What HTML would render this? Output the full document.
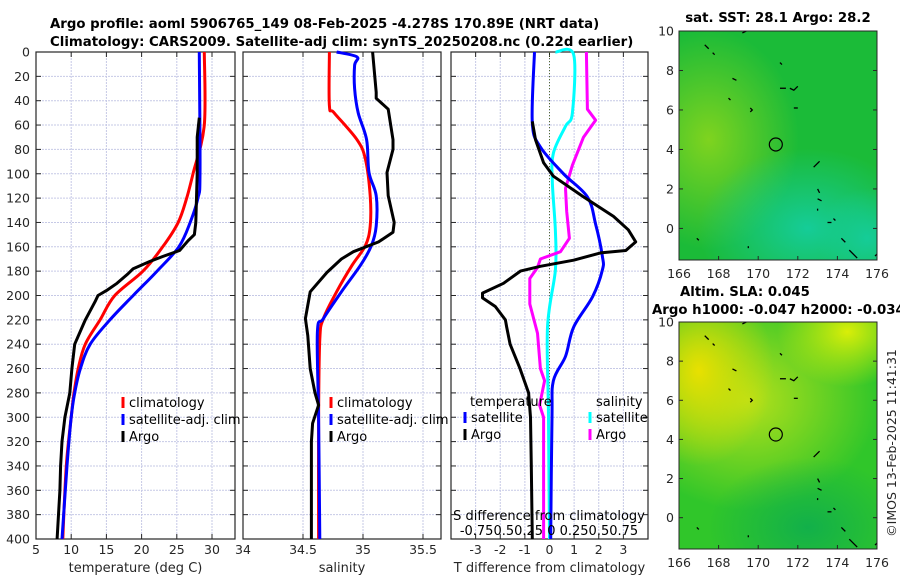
<!DOCTYPE html>
<html><head><meta charset="utf-8">
<style>
html,body{margin:0;padding:0;background:#fff;}
svg{display:block;font-family:"DejaVu Sans","Liberation Sans",sans-serif;}
.tk{font-size:12.5px;fill:#262626;}
.ttl{font-size:13.3px;font-weight:bold;fill:#000;}
.lg{font-size:13px;fill:#000;}
</style></head>
<body>
<svg id="fig" width="900" height="580" viewBox="0 0 900 580" xmlns="http://www.w3.org/2000/svg">
<defs>
<radialGradient id="g1a" cx="0.5" cy="0.5" r="0.5"><stop offset="0" stop-color="#7fd31f"/><stop offset="1" stop-color="#7fd31f" stop-opacity="0"/></radialGradient>
<radialGradient id="g1b" cx="0.5" cy="0.5" r="0.5"><stop offset="0" stop-color="#15cc98"/><stop offset="1" stop-color="#15cc98" stop-opacity="0"/></radialGradient>
<radialGradient id="g2a" cx="0.5" cy="0.5" r="0.5"><stop offset="0" stop-color="#e8e000"/><stop offset="1" stop-color="#e8e000" stop-opacity="0"/></radialGradient>
<radialGradient id="g2b" cx="0.5" cy="0.5" r="0.5"><stop offset="0" stop-color="#d9ee08"/><stop offset="1" stop-color="#d9ee08" stop-opacity="0"/></radialGradient>
<radialGradient id="g2c" cx="0.5" cy="0.5" r="0.5"><stop offset="0" stop-color="#12b04a"/><stop offset="1" stop-color="#12b04a" stop-opacity="0"/></radialGradient>
<radialGradient id="g2d" cx="0.5" cy="0.5" r="0.5"><stop offset="0" stop-color="#b4e01a"/><stop offset="1" stop-color="#b4e01a" stop-opacity="0"/></radialGradient>
<clipPath id="c1"><rect x="679" y="31" width="198" height="229"/></clipPath>
<clipPath id="c2"><rect x="679" y="322" width="198" height="227"/></clipPath>
</defs>
<text class="ttl" x="50" y="28">Argo profile: aoml 5906765_149 08-Feb-2025 -4.278S 170.89E (NRT data)</text>
<text class="ttl" x="50" y="46">Climatology: CARS2009. Satellite-adj clim: synTS_20250208.nc (0.22d earlier)</text>
<g id="layer"></g>
</svg>
<script>
// ---- Data ----
const depthTicks = [0,20,40,60,80,100,120,140,160,180,200,220,240,260,280,300,320,340,360,380,400];
const tempTicks = [5,10,15,20,25,30];
const salTicks = [34,34.5,35,35.5];
const tdiffTicks = [-3,-2,-1,0,1,2,3];

const climTempDepth = [0,60,100,120,140,160,180,200,220,240,260,280,300,340,400];
const climTemp      = [28.9,28.9,27.3,26.4,25.2,23.0,20.2,16.2,14.1,12.0,11.0,10.4,10.0,9.3,8.8];
const satTempDepth  = [0,100,120,140,160,180,200,220,240,260,280,300,340,400];
const satTemp       = [28.2,28.3,28.0,26.9,25.3,22.2,18.8,15.5,12.7,11.3,10.5,10.0,9.4,8.7];
const argoTempDepth = [54,70,100,140,150,155,163,168,172,178,182,190,196,200,205,220,240,260,280,300,320,340,360,400];
const argoTemp      = [28.2,27.9,27.9,27.7,27.5,26.6,25.4,23.0,21.2,18.8,18.1,16.5,15.0,13.8,13.4,12.0,10.5,10.1,9.8,9.1,8.7,8.5,8.4,8.0];

const climSalDepth = [0,44,50,72,88,118,143,159,175,197,219,236,300,400];
const climSal      = [34.72,34.72,34.76,34.95,35.02,35.06,35.06,35.02,34.91,34.78,34.67,34.64,34.63,34.63];
const satSalDepth  = [0,4,11,30,50,72,99,118,143,159,175,197,219,230,300,400];
const satSal       = [34.78,34.95,34.93,34.93,34.96,35.03,35.05,35.11,35.11,35.07,34.98,34.82,34.67,34.62,34.63,34.64];
const argoSalDepth = [0,33,38,47,72,80,99,118,140,148,156,164,170,181,197,208,219,233,260,270,280,290,305,320,400];
const argoSal      = [35.08,35.11,35.11,35.21,35.25,35.25,35.2,35.21,35.26,35.25,35.13,34.92,34.82,34.70,34.56,34.54,34.52,34.54,34.56,34.58,34.60,34.63,34.58,34.57,34.57];

const satTdDepth = [0,58,78,100,119,141,168,179,201,226,250,270,300,400];
const satTd      = [-0.61,-0.7,-0.37,0.57,1.54,1.87,2.15,2.15,1.75,0.98,0.65,0.16,0.1,0.05];
const argoTdDepth = [57,72,91,102,119,135,146,156,163,165,171,176,180,190,198,202,209,220,226,240,260,280,300,340,400];
const argoTd      = [-0.7,-0.57,-0.24,0.16,1.38,2.6,3.2,3.5,3.1,2.07,0.98,-0.37,-1.18,-1.87,-2.72,-2.72,-2.2,-1.79,-1.74,-1.6,-1.2,-0.85,-0.77,-0.74,-0.7];
const satSdDepth = [0,2,50,61,83,106,147,179,226,300,400];
const satSd      = [0.06,0.245,0.232,0.162,0.04,0.028,0.06,0.06,-0.02,-0.01,0.0];
const argoSdDepth = [0,47,56,70,93,112,131,153,164,170,177,186,207,231,260,270,290,300,400];
const argoSd      = [0.375,0.385,0.468,0.345,0.232,0.162,0.175,0.202,0.112,-0.092,-0.122,-0.2,-0.2,-0.122,-0.092,-0.05,-0.1,-0.06,-0.06];

const lonTicks = [166,168,170,172,174,176];
const latTicks = [0,2,4,6,8,10];
const argoLon = 170.89, argoLat = 4.25;

// ---- helpers ----
const NS="http://www.w3.org/2000/svg";
const layer=document.getElementById('layer');
function mk(tag,attrs,parent){const e=document.createElementNS(NS,tag);for(const k in attrs)e.setAttribute(k,attrs[k]);(parent||layer).appendChild(e);return e;}
const Y0=52, Y1=539;
const yD = d => Y0 + d*(Y1-Y0)/400;
function lin(d0,d1,r0,r1){return v=>r0+(v-d0)*(r1-r0)/(d1-d0);}

function panel(name,x0,x1,xs,vticks,tickvals,ticklabels,xtitle,showY){
  const g=mk('g',{});
  
  
  mk('rect',{x:x0,y:Y0,width:x1-x0,height:Y1-Y0,fill:'#fff'},g);
  depthTicks.forEach(d=>{ if(d>0&&d<400) mk('line',{x1:x0,x2:x1,y1:yD(d),y2:yD(d),stroke:'#c6c9e6','stroke-width':1,'stroke-dasharray':'2,1'},g);});
  vticks.forEach(v=>{const x=xs(v); if(x>x0+1&&x<x1-1) mk('line',{x1:x,x2:x,y1:Y0,y2:Y1,stroke:'#c6c9e6','stroke-width':1,'stroke-dasharray':'2,1'},g);});
  depthTicks.forEach(d=>{mk('line',{x1:x0,x2:x0+5,y1:yD(d),y2:yD(d),stroke:'#262626'},g);mk('line',{x1:x1-5,x2:x1,y1:yD(d),y2:yD(d),stroke:'#262626'},g);
    if(showY){const t=mk('text',{x:x0-6,y:yD(d)+4.5,'text-anchor':'end',class:'tk'},g);t.textContent=d;}});
  tickvals.forEach((v,i)=>{const x=xs(v);mk('line',{x1:x,x2:x,y1:Y1,y2:Y1-5,stroke:'#262626'},g);mk('line',{x1:x,x2:x,y1:Y0,y2:Y0+5,stroke:'#262626'},g);
    const t=mk('text',{x:x,y:554,'text-anchor':'middle',class:'tk'},g);t.textContent=ticklabels[i];});
  mk('rect',{x:x0,y:Y0,width:x1-x0,height:Y1-Y0,fill:'none',stroke:'#262626','stroke-width':1.2},g);
  const tt=mk('text',{x:(x0+x1)/2,y:572,'text-anchor':'middle',class:'tk',style:'font-size:13px'},g);tt.textContent=xtitle;
  
  return g;
}
function line(g,xs,depths,vals,color,name,smooth){
  const P=depths.map((d,i)=>[xs(vals[i]),yD(d)]);
  let dstr='M'+P[0][0].toFixed(1)+','+P[0][1].toFixed(1);
  for(let i=0;i<P.length-1;i++){
    if(smooth){
      const p0=P[Math.max(0,i-1)],p1=P[i],p2=P[i+1],p3=P[Math.min(P.length-1,i+2)];
      const c1=[p1[0]+(p2[0]-p0[0])/6,p1[1]+(p2[1]-p0[1])/6];
      const c2=[p2[0]-(p3[0]-p1[0])/6,p2[1]-(p3[1]-p1[1])/6];
      dstr+=' C'+c1[0].toFixed(1)+','+c1[1].toFixed(1)+' '+c2[0].toFixed(1)+','+c2[1].toFixed(1)+' '+p2[0].toFixed(1)+','+p2[1].toFixed(1);
    } else dstr+=' L'+P[i+1][0].toFixed(1)+','+P[i+1][1].toFixed(1);
  }
  const p=mk('path',{d:dstr,fill:'none',stroke:color,'stroke-width':3,'stroke-linejoin':'round'},g);
  
  
}
function legend(g,x,y,color,label,name){
  mk('line',{x1:x,x2:x,y1:y-10,y2:y+1,stroke:color,'stroke-width':3},g);
  const t=mk('text',{x:x+6,y:y,class:'lg'},g);t.textContent=label;
  
  
}

// Panel 1 temperature
const xT=lin(5,30,36,212);
const p1=panel('temperature-panel',36,235,xT,tempTicks,tempTicks,tempTicks,'temperature (deg C)',true);
line(p1,xT,climTempDepth,climTemp,'#ff0000','climatology-temp-line',true);
line(p1,xT,satTempDepth,satTemp,'#0000ff','satellite-temp-line',true);
line(p1,xT,argoTempDepth,argoTemp,'#000000','argo-temp-line',false);
legend(p1,123,407,'#ff0000','climatology','legend-climatology');
legend(p1,123,424,'#0000ff','satellite-adj. clim','legend-satellite');
legend(p1,123,441,'#000000','Argo','legend-argo');

// Panel 2 salinity
const xS=lin(34,35,243,363);
const p2=panel('salinity-panel',243,441,xS,salTicks,[34.5,35,35.5],['34.5','35','35.5'],'salinity',false);
line(p2,xS,climSalDepth,climSal,'#ff0000','climatology-sal-line',true);
line(p2,xS,satSalDepth,satSal,'#0000ff','satellite-sal-line',true);
line(p2,xS,argoSalDepth,argoSal,'#000000','argo-sal-line',false);
legend(p2,331,407,'#ff0000','climatology','legend-climatology-sal');
legend(p2,331,424,'#0000ff','satellite-adj. clim','legend-satellite-sal');
legend(p2,331,441,'#000000','Argo','legend-argo-sal');
{const t=mk('text',{x:243,y:554,'text-anchor':'middle',class:'tk'});t.textContent='34';}

// Panel 3 differences
const xD=lin(-4,4,451,648);
const xSD=s=>xD(s*4);
const p3=panel('difference-panel',451,648,xD,tdiffTicks,tdiffTicks,tdiffTicks,'T difference from climatology',false);
mk('line',{x1:xD(0),x2:xD(0),y1:Y0,y2:Y1,stroke:'#556b2f','stroke-width':1,'stroke-dasharray':'1,2'},p3);
line(p3,xSD,satSdDepth,satSd,'#00ffff','satellite-sal-diff-line',true);
line(p3,xSD,argoSdDepth,argoSd,'#ff00ff','argo-sal-diff-line',false);
line(p3,xD,satTdDepth,satTd,'#0000ff','satellite-temp-diff-line',true);
line(p3,xD,argoTdDepth,argoTd,'#000000','argo-temp-diff-line',false);
{const t=mk('text',{x:470,y:406,class:'lg'},p3);t.textContent='temperature';
 const s=mk('text',{x:596,y:406,class:'lg'},p3);s.textContent='salinity';}
legend(p3,465,422,'#0000ff','satellite','legend-temp-satellite');
legend(p3,465,439,'#000000','Argo','legend-temp-argo');
legend(p3,590,422,'#00ffff','satellite','legend-sal-satellite');
legend(p3,590,439,'#ff00ff','Argo','legend-sal-argo');
{const t=mk('text',{x:549,y:520,'text-anchor':'middle',class:'lg'},p3);t.textContent='S difference from climatology';
 const u=mk('text',{x:549,y:535,'text-anchor':'middle',class:'lg'},p3);u.textContent='-0.750.50.25 0  0.250.50.75';}

// Maps
const xL=lin(166,176,679,877);
const coast=[[[167.3,9.3],[167.5,9.1]],[[167.7,8.9],[167.8,8.8]],[[168.7,7.6],[168.9,7.5]],[[169.6,6.1],[169.7,6.0],[169.6,5.9]],[[171.1,7.1],[171.4,7.1]],[[171.6,7.1],[171.8,7.0],[172.0,7.2]],[[171.8,6.1],[172.0,6.1]],[[171.1,8.4],[171.2,8.3]],[[169.2,9.9],[169.4,10.0]],[[172.8,3.1],[173.1,3.4]],[[173.0,2.0],[173.1,1.8]],[[173.0,1.5],[173.2,1.4]],[[173.0,1.0],[173.0,0.9]],[[173.5,0.3],[173.7,0.3]],[[173.8,0.5],[173.9,0.4]],[[174.2,-0.5],[174.4,-0.7]],[[174.6,-1.1],[175.0,-1.5]],[[166.9,-0.5],[167.0,-0.6]],[[169.5,-0.9],[169.5,-1.0]],[[168.5,6.6],[168.6,6.5]],[[176.0,-1.3],[175.9,-1.4]]];
function map(name,top,bottom,clip,blobs,base){
  const yL=lin(0,10,top+(bottom-top)*10/11.6,top);
  const g=mk('g',{});
  
  
  const inner=mk('g',{'clip-path':'url(#'+clip+')'},g);
  mk('rect',{x:679,y:top,width:198,height:bottom-top,fill:base},inner);
  blobs.forEach(b=>mk('ellipse',{cx:xL(b[0]),cy:yL(b[1]),rx:b[2],ry:b[3],fill:'url(#'+b[4]+')'},inner));
  coast.forEach(c=>{mk('polyline',{points:c.map(q=>xL(q[0])+','+yL(q[1])).join(' '),fill:'none',stroke:'#000','stroke-width':1.3},inner);});
  const c=mk('circle',{cx:xL(argoLon),cy:yL(argoLat),r:6.5,fill:'none',stroke:'#000','stroke-width':1.2},g);
  
  mk('rect',{x:679,y:top,width:198,height:bottom-top,fill:'none',stroke:'#262626','stroke-width':1},g);
  lonTicks.forEach(v=>{const x=xL(v);mk('line',{x1:x,x2:x,y1:bottom,y2:bottom-4,stroke:'#262626'},g);
    const t=mk('text',{x:x,y:bottom+18,'text-anchor':'middle',class:'tk'},g);t.textContent=v;});
  latTicks.forEach(v=>{const y=yL(v);mk('line',{x1:679,x2:683,y1:y,y2:y,stroke:'#262626'},g);mk('line',{x1:873,x2:877,y1:y,y2:y,stroke:'#262626'},g);
    const t=mk('text',{x:674,y:y+4.5,'text-anchor':'end',class:'tk'},g);t.textContent=v;});
  return g;
}
map('sst-map',31,260,'c1',[[167.5,4.5,90,110,'g1a'],[172.5,0,110,80,'g1b'],[175.5,-0.5,50,50,'g1b']],'#1bbb38');
map('sla-map',322,549,'c2',[[169.5,6,130,110,'g2d'],[167,7.5,75,95,'g2a'],[174.5,9.5,70,55,'g2b'],[172.5,-0.5,100,70,'g2c']],'#30c62a');
{const t=mk('text',{x:778,y:22,'text-anchor':'middle',class:'ttl'});t.textContent='sat. SST: 28.1 Argo: 28.2';
 const a=mk('text',{x:680,y:296,class:'ttl'});a.textContent='Altim. SLA: 0.045';
 const b=mk('text',{x:652,y:314,class:'ttl'});b.textContent='Argo h1000: -0.047 h2000: -0.034';
 const c=mk('text',{x:0,y:0,'text-anchor':'middle',class:'tk',transform:'translate(896,443) rotate(-90)'});c.textContent='©IMOS 13-Feb-2025 11:41:31';}
</script>
</body></html>
